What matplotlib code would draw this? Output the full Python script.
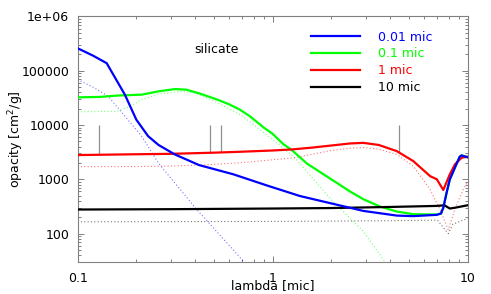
import numpy as np
import matplotlib
matplotlib.use('Agg')
import matplotlib.pyplot as plt
from matplotlib.ticker import LogLocator, NullFormatter, FuncFormatter

# --- data (wavelength in micron, opacity in cm^2/g) ---
# 0.01 mic grains
lam_a = [0.1, 0.12, 0.141, 0.158, 0.175, 0.2, 0.23, 0.26, 0.315, 0.42, 0.63, 0.93,
         1.38, 2.0, 2.92, 4.33, 5.26, 6.95, 7.3, 7.5, 7.8, 8.1, 8.6, 9.1, 9.3, 10]
kap_a = [2.6e5, 1.9e5, 1.38e5, 6.8e4, 3.6e4, 1.26e4, 6240, 4300, 2880, 1830, 1236, 776,
         493, 360, 262, 215, 210, 222, 235, 300, 570, 1000, 1640, 2610, 2760, 2550]
lam_a_dot = [0.1, 0.12, 0.1435, 0.175, 0.213, 0.259, 0.407, 0.68, 0.75]
kap_a_dot = [6.9e4, 5.0e4, 3.4e4, 1.45e4, 6240, 2020, 282, 36.6, 24]

# 0.1 mic grains
lam_b = [0.1, 0.13, 0.161, 0.213, 0.259, 0.315, 0.36, 0.424, 0.52, 0.6, 0.68, 0.765,
         0.9, 1.0, 1.13, 1.25, 1.5, 2.0, 2.49, 2.92, 3.55, 4.33, 5.26, 6.95, 7.3, 7.5,
         7.8, 8.1, 8.6, 9.1, 9.3, 10]
kap_b = [3.24e4, 3.3e4, 3.5e4, 3.63e4, 4.17e4, 4.6e4, 4.5e4, 3.8e4, 2.95e4, 2.4e4,
         1.92e4, 1.45e4, 9000, 6900, 4500, 3500, 1950, 1000, 600, 430, 316, 255, 228,
         225, 235, 300, 570, 1000, 1640, 2610, 2760, 2550]
lam_b_dot = [0.1, 0.16, 0.185, 0.213, 0.26, 0.335, 0.4, 0.52, 0.68, 0.765, 1.0,
             1.3, 2.0, 2.92, 3.77, 4.2]
kap_b_dot = [1.75e4, 1.8e4, 2.2e4, 2.94e4, 3.7e4, 4.17e4, 3.9e4, 2.6e4, 1.55e4,
             1.15e4, 5400, 2500, 420, 110, 30, 20]

# 1 mic grains
lam_c = [0.1, 0.2, 0.3, 0.5, 0.68, 1.0, 1.25, 1.6, 2.0, 2.49, 2.92, 3.5, 4.33, 5.26,
         6.41, 6.95, 7.5, 8.1, 8.6, 9.3, 10]
kap_c = [2800, 2900, 2950, 3100, 3220, 3400, 3550, 3850, 4200, 4580, 4700, 4300, 3310,
         2170, 1150, 1000, 637, 1236, 1880, 2500, 2610]
lam_c_dot = [0.1, 0.2, 0.3, 0.424, 0.68, 1.3, 2.0, 2.49, 2.92, 3.5, 4.33, 5.26, 6.41,
             7.2, 7.95, 8.7, 9.5, 10]
kap_c_dot = [1710, 1720, 1760, 1830, 2020, 2500, 3400, 3750, 3850, 3600, 2880, 1750,
             656, 282, 118, 316, 656, 900]

# 10 mic grains
lam_d = [0.1, 0.3, 1.0, 2.0, 4.0, 6.95, 7.6, 8.1, 8.6, 10]
kap_d = [278, 282, 290, 296, 310, 324, 333, 290, 300, 333]
lam_d_dot = [0.1, 0.5, 1.0, 2.0, 4.0, 7.0, 7.95, 8.4, 9.2, 10]
kap_d_dot = [165, 167, 168, 170, 173, 177, 100, 149, 170, 190]

# grey marker lines
mark_lam = [0.1286, 0.477, 0.543, 4.44]
mark_top = 1e4

sizes = ['0.01 mic', '0.1 mic', '1 mic', '10 mic']
colors = ['#0000ff', '#00ff00', '#ff0000', '#000000']

fig = plt.figure(figsize=(4.91, 2.94), dpi=100)
ax = fig.add_axes([0.158, 0.1088, 0.7945, 0.8351])

solid = [(lam_a, kap_a), (lam_b, kap_b), (lam_c, kap_c), (lam_d, kap_d)]
dotted = [(lam_a_dot, kap_a_dot), (lam_b_dot, kap_b_dot),
          (lam_c_dot, kap_c_dot), (lam_d_dot, kap_d_dot)]
zo = [6, 4, 5, 5]

for (l, k), c in zip(dotted, colors):
    ax.plot(l, k, color=c, lw=0.8, ls=(0, (1, 2)), alpha=0.55, zorder=2)
for (l, k), c, lab, z in zip(solid, colors, sizes, zo):
    ax.plot(l, k, color=c, lw=1.6, label=lab, zorder=z)

# marker lines end on the 1 mic curve
mark_lo = 10 ** np.interp(np.log10(mark_lam), np.log10(lam_c), np.log10(kap_c))
ax.vlines(mark_lam, mark_lo, mark_top, color='#909090', lw=0.9, zorder=1)

ax.set_xscale('log')
ax.set_yscale('log')
ax.set_xlim(0.1, 10)
ax.set_ylim(30, 1e6)

fmt = FuncFormatter(lambda v, p: '%g' % v)
ax.xaxis.set_major_formatter(fmt)
ax.yaxis.set_major_formatter(fmt)
ax.xaxis.set_minor_locator(LogLocator(base=10, subs=np.arange(2, 10)))
ax.yaxis.set_minor_locator(LogLocator(base=10, subs=np.arange(2, 10), numticks=20))
ax.yaxis.set_major_locator(LogLocator(base=10, numticks=20))
ax.xaxis.set_minor_formatter(NullFormatter())
ax.yaxis.set_minor_formatter(NullFormatter())

ax.tick_params(which='both', direction='in', top=True, right=True,
               color='#808080', labelsize=9)
ax.tick_params(which='major', length=4.5, width=0.7)
ax.tick_params(which='minor', length=2.3, width=0.7)
ax.tick_params(axis='x', pad=7)
ax.tick_params(axis='y', pad=6)
for s in ax.spines.values():
    s.set_color('#808080')
    s.set_linewidth(0.8)

ax.set_xlabel('lambda [mic]', fontsize=9)
ax.set_ylabel('opacity [cm$^2$/g]', fontsize=9)
ax.xaxis.set_label_coords(0.5, -0.07)
ax.yaxis.set_label_coords(-0.133, 0.5)

ax.text(0.357, 0.866, 'silicate', transform=ax.transAxes, fontsize=9,
        ha='center', va='center')

ax.legend(loc='upper left', bbox_to_anchor=(0.598, 0.942), frameon=False,
          fontsize=9, handlelength=3.9, handletextpad=1.5, labelspacing=0.3,
          borderpad=0, borderaxespad=0, labelcolor='linecolor')

fig.savefig('out.png', dpi=100)
